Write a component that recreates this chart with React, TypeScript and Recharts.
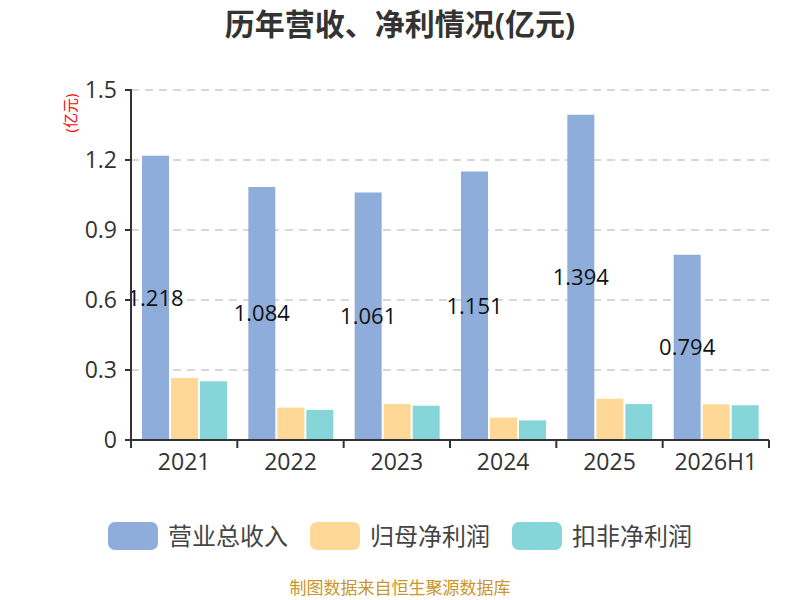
import React from "react";
import { Bar, BarChart, CartesianGrid, LabelList, ReferenceLine, XAxis, YAxis } from "recharts";

const years = ["2021", "2022", "2023", "2024", "2025", "2026H1"];
const revenue = [1.218, 1.084, 1.061, 1.151, 1.394, 0.794];
const netProfit = [0.266, 0.139, 0.154, 0.096, 0.177, 0.153];
const deductedProfit = [0.252, 0.129, 0.147, 0.084, 0.154, 0.149];
const yTicks = [0, 0.3, 0.6, 0.9, 1.2, 1.5];

const seriesNames = ["营业总收入", "归母净利润", "扣非净利润"];
const colors = ["#8eaddb", "#ffd898", "#86d5d8"];

const data = years.map((year, i) => ({
  year,
  revenue: revenue[i],
  netProfit: netProfit[i],
  deductedProfit: deductedProfit[i],
}));

const font = "'Open Sans', 'Noto Sans CJK SC', sans-serif";
const axisColor = "#333";
const margin = { top: 90, right: 31, left: 0, bottom: 120 };
const yAxisWidth = 131;
const xAxisHeight = 40;
const plotWidth = 800 - yAxisWidth - margin.right;
const plotHeight = 600 - margin.top - margin.bottom - xAxisHeight;
const halfBand = plotWidth / years.length / 2;

// category label plus a tick mark at each band boundary (echarts style)
function YearTick(props: any) {
  const x = Number(props.x);
  const y = Number(props.y);
  const { payload, index, visibleTicksCount } = props;
  const axisY = y - 12;
  const isLast = index === visibleTicksCount - 1;
  return (
    <g>
      <line x1={x - halfBand} x2={x - halfBand} y1={axisY} y2={axisY + 8} stroke={axisColor} strokeWidth={2} />
      {isLast && (
        <line x1={x + halfBand} x2={x + halfBand} y1={axisY} y2={axisY + 8} stroke={axisColor} strokeWidth={2} />
      )}
      <text x={x} y={y} dy={18} textAnchor="middle" fill="#333" fontSize={23} fontFamily={font}>
        {payload.value}
      </text>
    </g>
  );
}

function ValueTick(props: any) {
  const x = Number(props.x);
  const y = Number(props.y);
  return (
    <g>
      <line x1={x + 8} x2={x + 15} y1={y} y2={y} stroke={axisColor} strokeWidth={2} />
      <text x={x} y={y} dy={8} textAnchor="end" fill="#333" fontSize={23} fontFamily={font}>
        {String(props.payload.value)}
      </text>
    </g>
  );
}

export default function App() {
  return (
    <div
      style={{
        position: "absolute",
        left: 0,
        top: 0,
        width: 800,
        height: 600,
        background: "#fff",
        fontFamily: font,
      }}
    >
      <div
        style={{
          position: "absolute",
          top: 4,
          width: 800,
          textAlign: "center",
          fontSize: 30,
          fontWeight: 700,
          color: "#333",
          lineHeight: "40px",
        }}
      >
        历年营收、净利情况(亿元)
      </div>

      <BarChart
        width={800}
        height={600}
        data={data}
        margin={margin}
        barGap={2}
        barSize={27}
        style={{ position: "absolute", left: 0, top: 0 }}
      >
        <CartesianGrid
          horizontal
          vertical={false}
          stroke="#ccc"
          strokeDasharray="8 6"
          strokeWidth={1.5}
        />
        <XAxis
          dataKey="year"
          height={xAxisHeight}
          axisLine={false}
          tickLine={false}
          tickSize={0}
          tickMargin={12}
          tick={<YearTick />}
          interval={0}
        />
        <YAxis
          width={yAxisWidth}
          domain={[0, 1.5]}
          ticks={yTicks}
          stroke={axisColor}
          axisLine={{ stroke: axisColor, strokeWidth: 2 }}
          tickLine={false}
          tickSize={6}
          tickMargin={8}
          tick={<ValueTick />}
          label={() => (
            <text
              x={70}
              y={113}
              transform="rotate(-90 70 113)"
              textAnchor="middle"
              dominantBaseline="central"
              fill="red"
              fontSize={15}
              fontFamily={font}
            >
              (亿元)
            </text>
          )}
        />
        <Bar dataKey="revenue" fill={colors[0]} isAnimationActive={false}>
          <LabelList
            dataKey="revenue"
            position="center"
            fill="#111"
            fontSize={22}
            fontFamily={font}
            formatter={(v: number) => v.toFixed(3)}
          />
        </Bar>
        <Bar dataKey="netProfit" fill={colors[1]} isAnimationActive={false} />
        <Bar dataKey="deductedProfit" fill={colors[2]} isAnimationActive={false} />
        <ReferenceLine y={0} stroke={axisColor} strokeWidth={2} />
      </BarChart>

      {/* value-axis line along the left edge of the plot area */}
      <div
        style={{
          position: "absolute",
          left: yAxisWidth - 1,
          top: margin.top,
          width: 2,
          height: plotHeight,
          background: axisColor,
        }}
      />

      <div
        style={{
          position: "absolute",
          top: 522,
          left: 0,
          width: 800,
          display: "flex",
          justifyContent: "center",
          alignItems: "center",
        }}
      >
        {seriesNames.map((name, i) => (
          <div
            key={name}
            style={{ display: "flex", alignItems: "center", marginLeft: i === 0 ? 0 : 22 }}
          >
            <span
              style={{
                display: "inline-block",
                width: 50,
                height: 28,
                borderRadius: 7,
                background: colors[i],
              }}
            />
            <span style={{ marginLeft: 10, fontSize: 24, color: "#444", lineHeight: "28px" }}>
              {name}
            </span>
          </div>
        ))}
      </div>

      <div
        style={{
          position: "absolute",
          top: 578,
          width: 800,
          textAlign: "center",
          fontSize: 17,
          lineHeight: "20px",
          color: "#c9962c",
        }}
      >
        制图数据来自恒生聚源数据库
      </div>
    </div>
  );
}
